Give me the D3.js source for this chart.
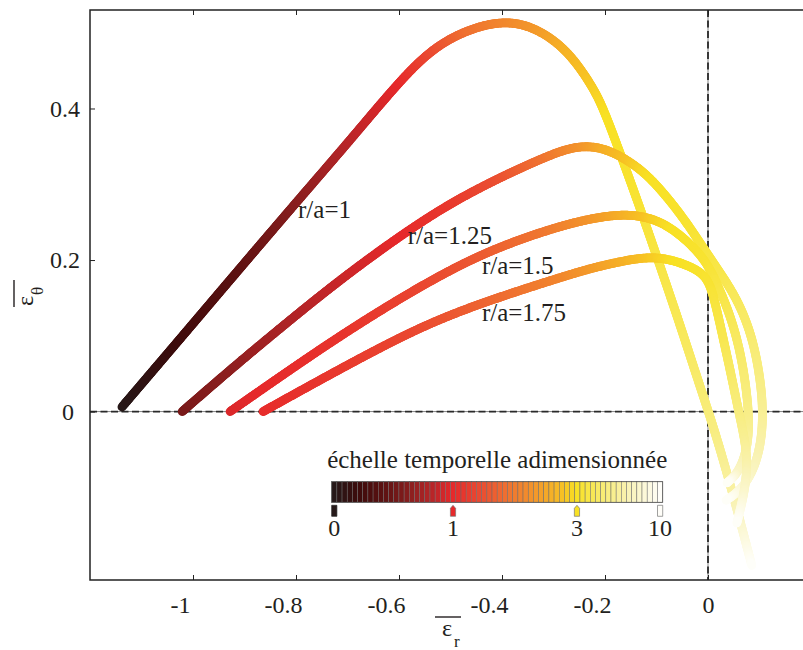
<!DOCTYPE html>
<html><head><meta charset="utf-8">
<script src="https://cdn.jsdelivr.net/npm/d3@7"></script>
<style>
body{margin:0;background:#fff}
svg{display:block}
text{font-family:"Liberation Serif","Times New Roman",serif;fill:#231f20}
</style>
</head><body><svg id="chart" width="803" height="650"></svg>
<script>
// ---------------- data ----------------
const xTicks = [-1, -0.8, -0.6, -0.4, -0.2, 0];
const yTicks = [0, 0.2, 0.4];
const curveNames = ["r/a=1", "r/a=1.25", "r/a=1.5", "r/a=1.75"];

// r/a = 1
const c1x = [-1.138,-1.025,-0.909,-0.792,-0.695,-0.598,-0.534,-0.468,-0.400,-0.340,-0.274,-0.223,-0.202,-0.171,-0.130,-0.093,-0.054,-0.016,0.014,0.049,0.085];
const c1y = [0.006,0.096,0.189,0.282,0.358,0.437,0.480,0.504,0.516,0.509,0.479,0.428,0.398,0.342,0.265,0.192,0.114,0.034,-0.027,-0.110,-0.203];
const c1t = [0,0.21,0.42,0.64,0.82,1.0,1.45,1.85,2.1,2.3,2.6,2.85,2.97,3.15,3.5,3.9,4.4,5.0,5.6,6.8,10];
// r/a = 1.25
const c2x = [-1.021,-0.928,-0.831,-0.715,-0.598,-0.501,-0.404,-0.326,-0.278,-0.239,-0.200,-0.161,-0.122,-0.084,-0.045,-0.010,0.023,0.058,0.085,0.101,0.108,0.101,0.084,0.060,0.035];
const c2y = [0.000,0.055,0.110,0.174,0.232,0.275,0.309,0.333,0.346,0.351,0.347,0.334,0.315,0.287,0.253,0.217,0.184,0.147,0.101,0.048,-0.005,-0.051,-0.084,-0.106,-0.117];
const c2t = [0.55,0.65,0.76,0.88,1.0,1.2,1.5,1.85,2.1,2.3,2.55,2.75,2.95,3.1,3.3,3.6,4.0,4.5,5.0,5.6,6.3,7.0,7.8,8.8,10];
// r/a = 1.5
const c3x = [-0.928,-0.812,-0.701,-0.573,-0.443,-0.313,-0.223,-0.157,-0.107,-0.068,-0.029,-0.002,0.019,0.041,0.060,0.074,0.081,0.074,0.056,0.037];
const c3y = [0.000,0.055,0.106,0.160,0.208,0.240,0.256,0.261,0.255,0.241,0.218,0.196,0.167,0.131,0.088,0.035,-0.018,-0.057,-0.083,-0.094];
const c3t = [0.95,1.05,1.15,1.35,1.6,1.95,2.3,2.6,2.85,3.0,3.2,3.4,3.8,4.2,4.7,5.3,6.0,6.9,8.0,10];
// r/a = 1.75
const c4x = [-0.864,-0.753,-0.573,-0.443,-0.287,-0.223,-0.157,-0.113,-0.074,-0.035,-0.002,0.012,0.027,0.043,0.058,0.072,0.077,0.070,0.056];
const c4y = [0.000,0.042,0.108,0.143,0.177,0.190,0.200,0.204,0.201,0.192,0.179,0.150,0.104,0.055,0.005,-0.038,-0.071,-0.110,-0.147];
const c4t = [1.05,1.15,1.4,1.7,2.1,2.35,2.6,2.8,2.95,3.1,3.3,3.6,4.1,4.7,5.4,6.2,7.0,8.3,10];

// label anchors (data coordinates)
const labelX = [-0.796, -0.583, -0.439, -0.439];
const labelY = [0.255, 0.221, 0.181, 0.119];

// colour bar
const cbarTicks = [0, 1, 3, 10];
const cbarTickFrac = [0.5/64, 0.3665, 0.741, 63.5/64];
const cmapStops = [0, 0.08, 0.16, 0.24, 0.30, 0.366, 0.45, 0.53, 0.62, 0.70, 0.741, 0.82, 0.90, 1.0];
const cmapColors = ["#231a1a","#3d0b0b","#5e1212","#8c1f1f","#b62528","#e6292b","#ea4b31","#ef7131","#f39a2a","#f7c224","#f8e124","#f8ec74","#f9f3b8","#ffffff"];
const cbarTitle = "échelle temporelle adimensionnée";

// ---------------- drawing ----------------
const svg = d3.select("#chart");
const L = 90, R = 811, T = 10, B = 580;
const x = d3.scaleLinear().domain([-1.2, 0.2]).range([L, R]);
const y = d3.scaleLinear().domain([-0.2223, 0.53]).range([B, T]);

const cmap = d3.scaleLinear().domain(cmapStops).range(cmapColors).interpolate(d3.interpolateRgb).clamp(true);
const tFrac = d3.scaleLinear().domain(cbarTicks).range(cbarTickFrac).clamp(true);
const colorOf = t => cmap(tFrac(t));

// reference lines (dashed)
function refLine(x1, y1, x2, y2) {
  svg.append("line").attr("x1", x1).attr("y1", y1).attr("x2", x2).attr("y2", y2)
    .attr("stroke", "#666").attr("stroke-width", 0.8);
  svg.append("line").attr("x1", x1).attr("y1", y1).attr("x2", x2).attr("y2", y2)
    .attr("stroke", "#2a2a2a").attr("stroke-width", 1.8).attr("stroke-dasharray", "7,3.5");
}
refLine(L, y(0), R, y(0));
refLine(x(0), T, x(0), B);

// curves (thick line whose colour follows the time scale)
const curves = [[c1x, c1y, c1t], [c2x, c2y, c2t], [c3x, c3y, c3t], [c4x, c4y, c4t]];
const lineGen = d3.line().curve(d3.curveBasis);
const gCurves = svg.append("g").attr("stroke-linecap", "round").attr("fill", "none").attr("stroke-width", 8.8);
curves.forEach(([cx, cy, ct]) => {
  const pts = cx.map((v, i) => [x(v), y(cy[i])]);
  const path = svg.append("path").attr("d", lineGen(pts)).attr("fill", "none").attr("stroke", "none");
  const node = path.node();
  const total = node.getTotalLength();
  const cum = [0];
  for (let i = 1; i < pts.length; i++) cum.push(cum[i-1] + Math.hypot(pts[i][0]-pts[i-1][0], pts[i][1]-pts[i-1][1]));
  const fr = cum.map(c => c / cum[cum.length-1]);
  const tOf = d3.scaleLinear().domain(fr).range(ct);
  const g = gCurves.append("g");
  const step = 1.5;
  let prev = node.getPointAtLength(0);
  for (let s = step; s <= total + step; s += step) {
    const ss = Math.min(s, total);
    const p = node.getPointAtLength(ss);
    g.append("line").attr("x1", prev.x).attr("y1", prev.y).attr("x2", p.x).attr("y2", p.y)
      .attr("stroke", colorOf(tOf((ss - step / 2) / total)));
    prev = p;
    if (ss >= total) break;
  }
  path.remove();
});

// curve labels
curveNames.forEach((n, i) => {
  svg.append("text").attr("x", x(labelX[i])).attr("y", y(labelY[i]))
    .attr("font-size", 25).text(n);
});

// axes frame
svg.append("path").attr("d", `M${R},${T}H${L}V${B}H${R}`).attr("fill", "none")
  .attr("stroke", "#222").attr("stroke-width", 1.5);

const fmt = d => String(d);
const gx = svg.append("g").attr("transform", `translate(0,${B})`)
  .call(d3.axisBottom(x).tickValues(xTicks).tickSizeInner(-5).tickSizeOuter(0).tickFormat(fmt));
const gxt = svg.append("g").attr("transform", `translate(0,${T})`)
  .call(d3.axisTop(x).tickValues(xTicks).tickSizeInner(-5).tickSizeOuter(0).tickFormat(""));
const gy = svg.append("g").attr("transform", `translate(${L},0)`)
  .call(d3.axisLeft(y).tickValues(yTicks).tickSizeInner(-5).tickSizeOuter(0).tickFormat(fmt));
[gx, gxt, gy].forEach(g => {
  g.select(".domain").remove();
  g.selectAll(".tick line").attr("stroke", "#222").attr("stroke-width", 1);
  g.selectAll("text").attr("font-family", "Liberation Serif").attr("font-size", 24).attr("fill", "#231f20");
});
gx.selectAll(".tick text").attr("y", 16).attr("dx", d => d < 0 ? -13 : 0);
gy.selectAll(".tick text").attr("x", -10).attr("dx", d => d === 0 ? -6 : 0);

// axis labels
const xl = svg.append("g").attr("transform", "translate(448,636)");
xl.append("text").attr("text-anchor", "end").attr("x", 4).attr("font-size", 24).text("ε");
xl.append("text").attr("x", 6).attr("y", 11).attr("font-size", 17).text("r");
xl.append("line").attr("x1", -13).attr("x2", 13).attr("y1", -19).attr("y2", -19).attr("stroke", "#231f20").attr("stroke-width", 1.4);

const yl = svg.append("g").attr("transform", "translate(33,306) rotate(-90)");
yl.append("text").attr("x", 0).attr("font-size", 24).text("ε");
yl.append("text").attr("x", 11).attr("y", 10).attr("font-size", 17).text("θ");
yl.append("line").attr("x1", -1).attr("x2", 26).attr("y1", -19).attr("y2", -19).attr("stroke", "#231f20").attr("stroke-width", 1.4);

// colour bar
const cbX0 = 331.7, cbW = 331, cbY0 = 481.7, cbH = 20.6, nCells = 64;
const cbx = d3.scaleLinear().domain([0, 1]).range([cbX0, cbX0 + cbW]);
const gcb = svg.append("g");
d3.range(nCells).forEach(i => {
  gcb.append("rect").attr("x", cbx(i / nCells)).attr("y", cbY0).attr("width", cbW / nCells).attr("height", cbH)
    .attr("fill", cmap((i + 0.5) / nCells)).attr("stroke", "#6a6a6a").attr("stroke-width", 0.5);
});
gcb.append("rect").attr("x", cbX0).attr("y", cbY0).attr("width", cbW).attr("height", cbH)
  .attr("fill", "none").attr("stroke", "#555").attr("stroke-width", 0.8);
gcb.append("text").attr("x", cbX0 + cbW / 2).attr("y", cbY0 - 14).attr("text-anchor", "middle")
  .attr("font-size", 25).text(cbarTitle);
const cbAxis = d3.scaleLinear().domain(cbarTicks).range(cbarTickFrac.map(f => cbx(f)));
cbarTicks.forEach((t, i) => {
  const cx = cbAxis(t), top = cbY0 + cbH + 3, bot = top + 11;
  const col = colorOf(t);
  const pointed = (i === 1 || i === 2);
  const d = pointed
    ? `M${cx-2.6},${bot}V${top+3}L${cx},${top}L${cx+2.6},${top+3}V${bot}Z`
    : `M${cx-2.6},${bot}V${top}H${cx+2.6}V${bot}Z`;
  gcb.append("path").attr("d", d).attr("fill", col).attr("stroke", i === 0 ? "#222" : "#777").attr("stroke-width", 0.7);
  gcb.append("text").attr("x", cx).attr("y", bot + 20).attr("text-anchor", "middle").attr("font-size", 24).text(String(t));
});
</script>
</body></html>
